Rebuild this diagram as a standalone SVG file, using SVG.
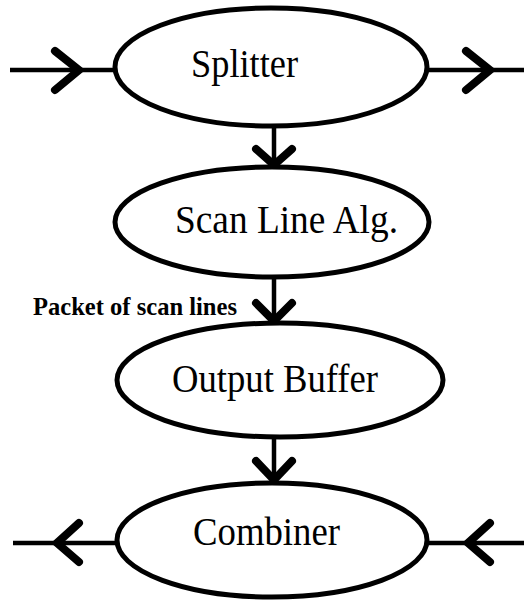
<svg xmlns="http://www.w3.org/2000/svg" width="524" height="600" viewBox="0 0 524 600">
  <style>
    .node ellipse { fill: #ffffff; stroke: #000000; stroke-width: 5; }
    .node text { font-family: "Liberation Serif", "Times New Roman", serif; font-size: 41px; fill: #000000; }
    .edge line { stroke: #000000; stroke-width: 4.5; }
    .edge polyline { fill: none; stroke: #000000; stroke-width: 8; stroke-linecap: round; stroke-linejoin: miter; }
    .label { font-family: "Liberation Serif", "Times New Roman", serif; font-size: 25px; font-weight: bold; fill: #000000; }
  </style>
  <rect width="524" height="600" fill="#ffffff"/>

  <!-- connectors: shafts plus open chevron heads -->
  <g id="connectors">
    <g class="edge" id="in-splitter">
      <line x1="10" y1="70" x2="116" y2="70"/>
      <polyline points="55,51 79,70 55,90"/>
    </g>
    <g class="edge" id="splitter-out">
      <line x1="426" y1="70" x2="524" y2="70"/>
      <polyline points="466,51 490,70 466,90"/>
    </g>
    <g class="edge" id="splitter-scan">
      <line x1="274" y1="126" x2="274" y2="167"/>
      <polyline points="256,149 274,165 292,149"/>
    </g>
    <g class="edge" id="scan-output">
      <line x1="274" y1="277" x2="274" y2="323"/>
      <polyline points="256,303 274,321 292,303"/>
    </g>
    <g class="edge" id="output-combiner">
      <line x1="274" y1="437" x2="274" y2="482"/>
      <polyline points="256,461 274,480 292,461"/>
    </g>
    <g class="edge" id="combiner-out">
      <line x1="13" y1="543" x2="118" y2="543"/>
      <polyline points="79,523 57,543 79,562"/>
    </g>
    <g class="edge" id="in-combiner">
      <line x1="426" y1="543" x2="524" y2="543"/>
      <polyline points="490,523 468,543 490,562"/>
    </g>
    <text class="label" x="33" y="315" textLength="204" lengthAdjust="spacingAndGlyphs">Packet of scan lines</text>
  </g>

  <g class="node" id="splitter">
    <ellipse cx="271" cy="67" rx="156" ry="59"/>
    <text x="191" y="77" textLength="107" lengthAdjust="spacingAndGlyphs">Splitter</text>
  </g>

  <g class="node" id="scan-line-alg">
    <ellipse cx="272" cy="222" rx="157" ry="55"/>
    <text x="175" y="233" textLength="223" lengthAdjust="spacingAndGlyphs">Scan Line Alg.</text>
  </g>

  <g class="node" id="output-buffer">
    <ellipse cx="280" cy="380" rx="163" ry="57"/>
    <text x="172" y="392" textLength="206" lengthAdjust="spacingAndGlyphs">Output Buffer</text>
  </g>

  <g class="node" id="combiner">
    <ellipse cx="272" cy="540" rx="155" ry="57"/>
    <text x="193" y="545" textLength="147" lengthAdjust="spacingAndGlyphs">Combiner</text>
  </g>
</svg>
